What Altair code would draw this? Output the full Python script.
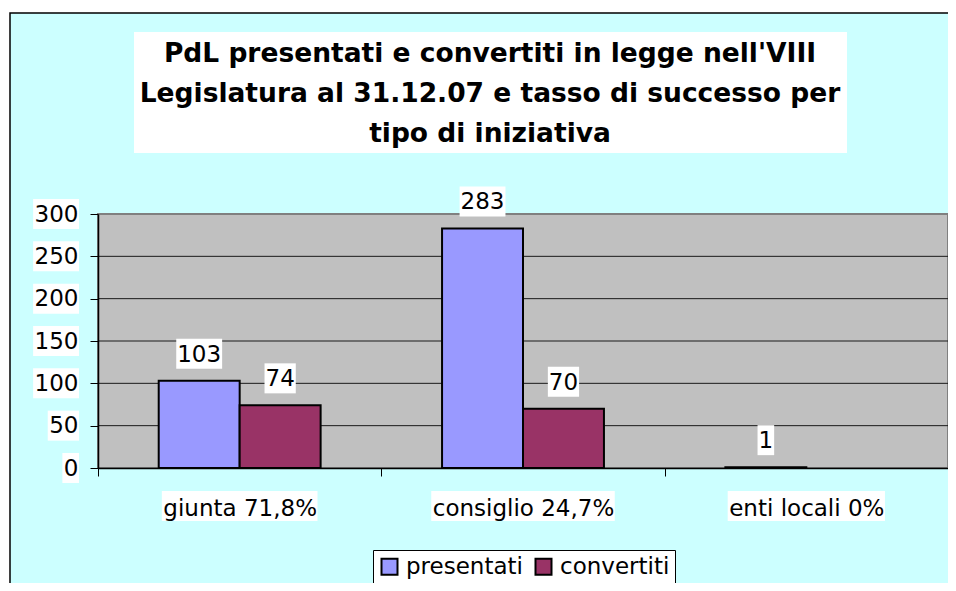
import altair as alt
import pandas as pd

# ---- data ----
CATEGORIES = ["giunta 71,8%", "consiglio 24,7%", "enti locali 0%"]
SERIES = ["presentati", "convertiti"]
PRESENTATI = [103, 283, 1]
CONVERTITI = [74, 70, 0]
Y_TICKS = [0, 50, 100, 150, 200, 250, 300]
GRID_VALUES = [50, 100, 150, 200, 250]
TITLE_LINES = [
    "PdL presentati e convertiti in legge nell'VIII",
    "Legislatura al 31.12.07 e tasso di successo per",
    "tipo di iniziativa",
]
COLORS = ["#9999FF", "#993366"]

rows = []
for c, p, v in zip(CATEGORIES, PRESENTATI, CONVERTITI):
    rows.append({"cat": c, "serie": "presentati", "val": p})
    rows.append({"cat": c, "serie": "convertiti", "val": v})
df = pd.DataFrame(rows)

W, H = 850, 254
FONT = "DejaVu Sans"
FS = 23
one = pd.DataFrame({"k": [0]})

# approximate DejaVu Sans advance widths (em) to size the white label boxes
CHAR_W = {"g": .635, "i": .278, "u": .634, "n": .634, "t": .392, "a": .613, " ": .318,
          ",": .318, "%": .950, "c": .550, "o": .612, "s": .521, "l": .278, "e": .615}


def text_w(s):
    return sum(CHAR_W.get(ch, .636) for ch in s) * FS


def box_path(w, h, anchor="center"):
    a = w / h
    if anchor == "right":
        return f"M{-2 * a:.4f},-1H0V1H{-2 * a:.4f}Z"
    return f"M{-a:.4f},-1H{a:.4f}V1H{-a:.4f}Z"


BOX_H = 30

yscale = alt.Scale(domain=[0, 300], nice=False, zero=True)
y_enc = alt.Y(
    "val:Q",
    scale=yscale,
    axis=alt.Axis(
        values=Y_TICKS, grid=False, title=None, tickSize=8, tickColor="black",
        domainColor="black", domainWidth=1.5, labelFont=FONT, labelFontSize=FS,
        labelColor="black", labelPadding=12, zindex=1,
    ),
)
x_enc = alt.X(
    "cat:N",
    sort=CATEGORIES,
    scale=alt.Scale(paddingInner=0, paddingOuter=0),
    axis=alt.Axis(
        title=None, labelAngle=0, tickBand="extent", tickSize=8, tickColor="black",
        domainColor="black", domainWidth=1.5, labelFont=FONT, labelFontSize=FS,
        labelColor="black", labelBaseline="alphabetic", labelPadding=39, labelLimit=0,
        zindex=1,
    ),
)
xoff_enc = alt.XOffset(
    "serie:N", sort=SERIES, scale=alt.Scale(paddingInner=0, paddingOuter=0.75)
)

bg = alt.Chart(one).mark_rect(fill="#CCFFFF", stroke="#000000", strokeWidth=1.5).encode(
    x=alt.value(-88), x2=alt.value(W + 30), y=alt.value(-201), y2=alt.value(H + 200)
)
title_box = alt.Chart(one).mark_rect(fill="white").encode(
    x=alt.value(36), x2=alt.value(749), y=alt.value(-182), y2=alt.value(-61)
)
title_text = alt.Chart(one).mark_text(
    text=TITLE_LINES, font=FONT, fontSize=26.5, fontWeight="bold", align="center",
    baseline="alphabetic", lineHeight=40, color="black",
).encode(x=alt.value(392), y=alt.value(-152.5))

# white boxes behind the y-axis labels
ytick_df = pd.DataFrame({"val": Y_TICKS})
ytick_df["path"] = [box_path(text_w(str(v)) + 2, BOX_H, "right") for v in Y_TICKS]
ytick_boxes = alt.Chart(ytick_df).mark_point(
    filled=True, color="white", opacity=1, strokeWidth=0, size=BOX_H * BOX_H
).encode(x=alt.value(-19), y=y_enc, shape=alt.Shape("path:N", scale=None, legend=None))

# white boxes behind the category labels
cat_df = pd.DataFrame({"cat": CATEGORIES})
cat_df["path"] = [box_path(text_w(c) + 2, BOX_H) for c in CATEGORIES]
cat_boxes = alt.Chart(cat_df).mark_point(
    filled=True, color="white", opacity=1, strokeWidth=0, size=BOX_H * BOX_H
).encode(x=x_enc, y=alt.value(292), shape=alt.Shape("path:N", scale=None, legend=None))

plot_rect = alt.Chart(one).mark_rect(fill="#C0C0C0", stroke="#808080", strokeWidth=2).encode(
    x=alt.value(0), x2=alt.value(W), y=alt.value(0), y2=alt.value(H)
)
grid = alt.Chart(pd.DataFrame({"val": GRID_VALUES})).mark_rule(
    color="#1a1a1a", strokeWidth=1
).encode(y=y_enc, x=alt.value(0), x2=alt.value(W))

bars = alt.Chart(df).transform_filter("datum.val > 0").mark_bar(
    stroke="black", strokeWidth=2
).encode(
    x=x_enc,
    xOffset=xoff_enc,
    y=y_enc,
    color=alt.Color(
        "serie:N",
        sort=SERIES,
        scale=alt.Scale(domain=SERIES, range=COLORS),
        legend=alt.Legend(
            title=None, orient="none", legendX=275, legendY=336, direction="horizontal",
            fillColor="white", strokeColor="black", padding=5, symbolType="square",
            symbolSize=256, symbolStrokeColor="black", symbolStrokeWidth=2,
            labelFont=FONT, labelFontSize=FS, labelColor="black", labelOffset=5,
            columnPadding=8,
        ),
    ),
)

lab_df = df[df["val"] > 0].copy()
lab_df["path"] = [box_path(text_w(str(v)) + 2, BOX_H) for v in lab_df["val"]]
label_boxes = alt.Chart(lab_df).mark_point(
    filled=True, color="white", opacity=1, strokeWidth=0, size=BOX_H * BOX_H, yOffset=-27
).encode(x=x_enc, xOffset=xoff_enc, y=y_enc,
         shape=alt.Shape("path:N", scale=None, legend=None))

labels = alt.Chart(df).transform_filter("datum.val > 0").mark_text(
    font=FONT, fontSize=FS, baseline="alphabetic", dy=-19, color="black"
).encode(x=x_enc, xOffset=xoff_enc, y=y_enc, text="val:Q")

chart = alt.layer(
    bg, title_box, title_text, ytick_boxes, cat_boxes, plot_rect, grid, bars,
    label_boxes, labels,
).properties(
    width=W,
    height=H,
    autosize=alt.AutoSizeParams(type="none"),
    padding={"left": 90, "top": 206, "right": 0, "bottom": 115},
).configure_view(stroke=None)

chart.save("out.html", embed_options={"renderer": "svg", "actions": False})
